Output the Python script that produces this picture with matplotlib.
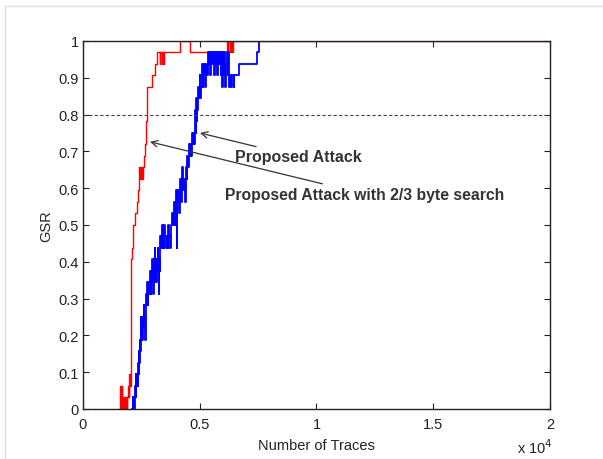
import matplotlib

matplotlib.use("Agg")
import matplotlib.pyplot as plt
import numpy as np
from matplotlib.lines import Line2D

N_RUNS = 32  # GSR = hits / N_RUNS

# Proposed attack with 2/3 byte search (red): step points (traces, hits)
red_traces = [1550, 1600, 1620, 1650, 1670, 1700, 1720, 1750, 1770, 1800, 1820, 1850,
              1870, 1900, 1930, 1960, 1990, 2010, 2040, 2085, 2155, 2230, 2300, 2370,
              2420, 2450, 2480, 2510, 2560, 2600, 2650, 2680, 2710, 2740, 2760, 2950,
              3080, 3180, 3300, 3320, 3380, 3400, 3430, 3450, 4150, 4580, 6150, 6200,
              6230, 6280, 6320, 6370, 6420, 20000]
red_hits = [0, 2, 0, 2, 0, 1, 0, 1, 0, 1, 0, 1,
            0, 1, 2, 1, 3, 2, 13, 14, 16, 17, 18, 19,
            21, 20, 21, 20, 21, 22, 23, 24, 25, 26, 28, 29,
            30, 31, 30, 31, 30, 31, 30, 31, 32, 31, 32, 31,
            32, 31, 32, 31, 32, 32]

# Proposed attack (blue): step points (traces, hits)
blue_traces = [2100, 2140, 2160, 2180, 2200, 2220, 2250, 2270, 2290, 2320, 2340, 2360,
               2380, 2400, 2420, 2440, 2460, 2480, 2500, 2520, 2540, 2560, 2580, 2600,
               2620, 2640, 2660, 2680, 2700, 2720, 2740, 2760, 2780, 2800, 2820, 2840,
               2860, 2880, 2900, 2920, 2940, 2960, 2980, 3000, 3020, 3040, 3060, 3080,
               3100, 3120, 3140, 3160, 3180, 3200, 3220, 3240, 3260, 3280, 3300, 3320,
               3340, 3360, 3380, 3400, 3420, 3440, 3460, 3480, 3500, 3540, 3580, 3620,
               3660, 3700, 3740, 3780, 3800, 3840, 3880, 3920, 3960, 4000, 4020, 4040,
               4080, 4120, 4160, 4200, 4240, 4280, 4320, 4360, 4400, 4440, 4460, 4500,
               4540, 4580, 4620, 4640, 4660, 4700, 4740, 4760, 4800, 4820, 4850, 4870,
               4900, 4930, 4960, 5000, 5030, 5060, 5100, 5130, 5160, 5200, 5240, 5280,
               5320, 5350, 5380, 5420, 5450, 5500, 5540, 5570, 5600, 5640, 5680, 5720,
               5750, 5780, 5800, 5840, 5870, 5900, 5930, 5960, 6000, 6030, 6060, 6100,
               6130, 6170, 6200, 6230, 6260, 6300, 6350, 6380, 6450, 6480, 6680, 7450,
               7550, 20000]
blue_hits = [0, 1, 0, 1, 0, 2, 1, 3, 2, 3, 2, 4,
             3, 5, 4, 6, 5, 8, 6, 7, 6, 8, 7, 9,
             7, 8, 6, 9, 8, 10, 9, 11, 9, 11, 10, 11,
             10, 12, 10, 12, 11, 13, 11, 12, 10, 13, 11, 14,
             12, 13, 11, 13, 12, 14, 12, 10, 13, 12, 14, 15,
             14, 15, 14, 16, 14, 15, 14, 16, 15, 14, 15, 14,
             16, 15, 14, 16, 17, 16, 18, 16, 17, 19, 14, 18,
             19, 17, 20, 18, 21, 19, 20, 18, 21, 20, 22, 21,
             23, 22, 23, 22, 24, 23, 24, 23, 26, 24, 27, 25,
             26, 28, 27, 29, 27, 28, 30, 28, 29, 30, 28, 30,
             29, 31, 30, 31, 29, 31, 30, 31, 29, 31, 30, 31,
             29, 31, 30, 31, 30, 29, 31, 28, 31, 29, 31, 28,
             30, 31, 29, 31, 28, 29, 28, 29, 28, 29, 30, 31,
             32, 32]

x_ticks = [0, 5000, 10000, 15000, 20000]
x_tick_labels = ["0", "0.5", "1", "1.5", "2"]
y_ticks = [0, 0.1, 0.2, 0.3, 0.4, 0.5, 0.6, 0.7, 0.8, 0.9, 1]
y_tick_labels = ["0", "0.1", "0.2", "0.3", "0.4", "0.5", "0.6", "0.7", "0.8", "0.9", "1"]
target_gsr = 0.8

plt.rcParams["font.family"] = ["Liberation Sans", "DejaVu Sans"]

fig = plt.figure(figsize=(6.03, 4.60), dpi=100)
ax = fig.add_axes([0.1376, 0.1087, 0.7745, 0.80])

ax.step(red_traces, np.array(red_hits) / N_RUNS, where="post", color="#ff0000", lw=1.0)
ax.step(blue_traces, np.array(blue_hits) / N_RUNS, where="post", color="#0000ff", lw=1.3)
ax.axhline(target_gsr, color="#444444", lw=0.8, ls=(0, (3, 2)))

ax.set_xlim(0, 20000)
ax.set_ylim(0, 1)
ax.set_xticks(x_ticks)
ax.set_xticklabels(x_tick_labels)
ax.set_yticks(y_ticks)
ax.set_yticklabels(y_tick_labels)
ax.tick_params(direction="in", length=4, width=0.8, labelsize=10.5, colors="#222222",
               top=True, right=True)
ax.tick_params(axis="x", pad=6)
ax.tick_params(axis="y", pad=3)
for s in ax.spines.values():
    s.set_linewidth(1.0)
    s.set_color("#222222")

ax.set_xlabel("Number of Traces", fontsize=10.5, color="#222222", labelpad=5)
ax.set_ylabel("GSR", fontsize=10.5, color="#222222", labelpad=4)
fig.text(0.858, 0.014, r"x 10$^4$", fontsize=10.5, color="#222222")

arrow = dict(arrowstyle="->", color="#333333", lw=0.9, shrinkA=0, shrinkB=0)
ax.annotate("Proposed Attack", xy=(5010, 0.750), xytext=(6510, 0.685),
            fontsize=11.5, fontweight="bold", color="#333333", va="center",
            arrowprops=arrow)
ax.annotate("Proposed Attack with 2/3 byte search", xy=(2870, 0.726),
            xytext=(6080, 0.584), fontsize=11.3, fontweight="bold", color="#333333",
            va="center", arrowprops=arrow)

# light frame at the left and top edge of the picture
fig.add_artist(Line2D([5 / 603, 5 / 603], [0, 1 - 7 / 460], color="#dddddd", lw=1.0))
fig.add_artist(Line2D([5 / 603, 1], [1 - 7 / 460, 1 - 7 / 460], color="#dddddd", lw=1.0))

fig.savefig("out.png", dpi=100)
